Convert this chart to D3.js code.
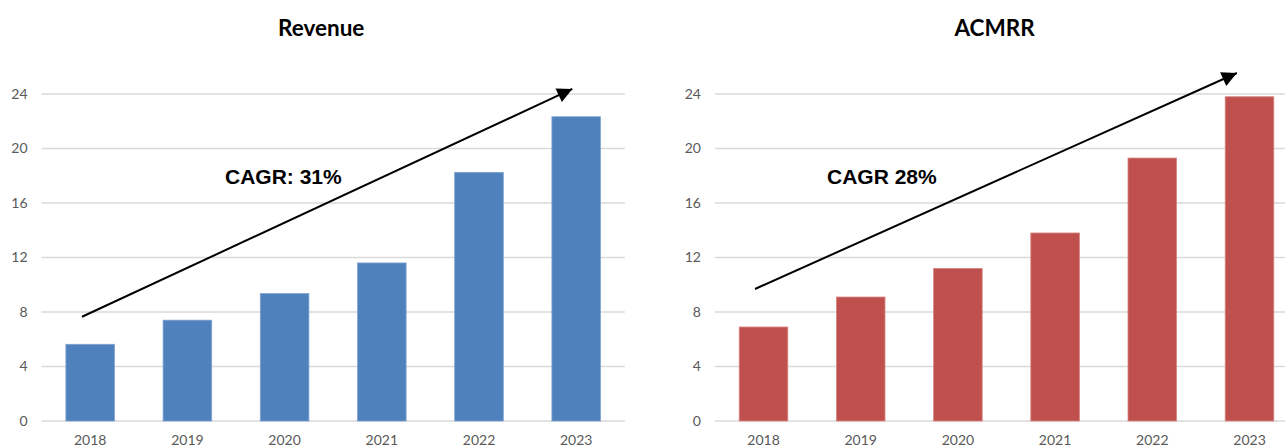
<!DOCTYPE html>
<html>
<head>
<meta charset="utf-8">
<script src="https://cdn.jsdelivr.net/npm/d3@7"></script>
<style>
    body { margin: 0; background: #fff; }
    svg { display: block; }
</style>
</head>
<body>
<svg id="chart" width="1285" height="447"></svg>
<script>
// values
let years = ['2018', '2019', '2020', '2021', '2022', '2023'];
let revenue = [5.63, 7.4, 9.35, 11.6, 18.25, 22.33];
let acmrr = [6.9, 9.1, 11.2, 13.8, 19.3, 23.8];
let yTicks = [0, 4, 8, 12, 16, 20, 24];

// arrows in data space: [category offset from first year, value]
let revenueArrow = [[-0.084, 7.65], [4.96, 24.37]];
let acmrrArrow = [[-0.087, 9.69], [4.87, 25.54]];

/** One bar chart panel with a CAGR arrow. */
class BarPanel {

    constructor(svg, opts) {
        this.svg = svg;
        this.opts = opts;
    }

    draw() {
        let o = this.opts;
        let g = this.svg.append('g');

        let xScale = d3.scaleBand()
            .domain(years)
            .range([o.left, o.left + 583.2])
            .paddingInner(0.5)
            .paddingOuter(0.25);

        let yScale = d3.scaleLinear().domain([0, 24]).range([421, 94]);

        // gridlines
        g.selectAll('.grid')
            .data(yTicks)
            .enter()
            .append('line')
            .attr('x1', o.left)
            .attr('x2', o.left + 583.2)
            .attr('y1', d => yScale(d))
            .attr('y2', d => yScale(d))
            .attr('stroke', '#d9d9d9')
            .attr('stroke-width', 1.3);

        // y axis (labels only)
        let yAxis = d3.axisLeft(yScale).tickValues(yTicks).tickSize(0).tickPadding(14);
        g.append('g')
            .attr('transform', `translate(${o.left},0)`)
            .call(yAxis)
            .call(a => a.select('.domain').remove())
            .selectAll('text')
            .attr('fill', '#595959')
            .style('font-family', 'Lato, sans-serif')
            .style('font-size', '14px');

        // bars
        g.selectAll('.bar')
            .data(o.values)
            .enter()
            .append('rect')
            .attr('x', (d, i) => xScale(years[i]))
            .attr('y', d => yScale(d))
            .attr('width', xScale.bandwidth())
            .attr('height', d => yScale(0) - yScale(d))
            .attr('fill', o.color)
            .attr('stroke', o.edge)
            .attr('stroke-width', 0.8);

        // x axis (labels only)
        let xAxis = d3.axisBottom(xScale).tickSize(0).tickPadding(0);
        g.append('g')
            .attr('transform', `translate(0,${yScale(0)})`)
            .call(xAxis)
            .call(a => a.select('.domain').remove())
            .selectAll('text')
            .attr('dy', '24.3')
            .attr('fill', '#595959')
            .style('font-family', 'Lato, sans-serif')
            .style('font-size', '14px');

        // title
        g.append('text')
            .attr('x', o.left + 583.2 / 2 - 12)
            .attr('y', 35.5)
            .attr('text-anchor', 'middle')
            .style('font-family', 'Lato, sans-serif')
            .style('font-weight', 'bold')
            .style('font-size', '22.5px')
            .attr('fill', '#000')
            .text(o.title);

        // arrow, positioned from category offsets
        let step = xScale.step();
        let x0 = xScale(years[0]) + xScale.bandwidth() / 2;
        let px = p => x0 + p[0] * step;
        g.append('line')
            .attr('x1', px(o.arrow[0]))
            .attr('y1', yScale(o.arrow[0][1]))
            .attr('x2', px(o.arrow[1]))
            .attr('y2', yScale(o.arrow[1][1]))
            .attr('stroke', '#000')
            .attr('stroke-width', 2)
            .attr('marker-end', 'url(#head)');

        g.append('text')
            .attr('x', o.labelX)
            .attr('y', 183.5)
            .style('font-family', '"Liberation Sans", Arial, sans-serif')
            .style('font-weight', 'bold')
            .style('font-size', '21px')
            .attr('fill', '#000')
            .text(o.label);
    }
}

let svg = d3.select('#chart');

svg.append('defs').append('marker')
    .attr('id', 'head')
    .attr('viewBox', '0 0 10 10')
    .attr('refX', 10)
    .attr('refY', 5)
    .attr('markerUnits', 'userSpaceOnUse')
    .attr('markerWidth', 18)
    .attr('markerHeight', 15)
    .attr('orient', 'auto')
    .append('path')
    .attr('d', 'M0,0 L10,5 L0,10 Z')
    .attr('fill', '#000');

new BarPanel(svg, {
    left: 41.6, values: revenue, color: '#4f81bd', edge: '#7ea2cf',
    title: 'Revenue', label: 'CAGR: 31%', labelX: 225, arrow: revenueArrow
}).draw();

new BarPanel(svg, {
    left: 714.9, values: acmrr, color: '#c0504d', edge: '#d88684',
    title: 'ACMRR', label: 'CAGR 28%', labelX: 827, arrow: acmrrArrow
}).draw();
</script>
</body>
</html>
